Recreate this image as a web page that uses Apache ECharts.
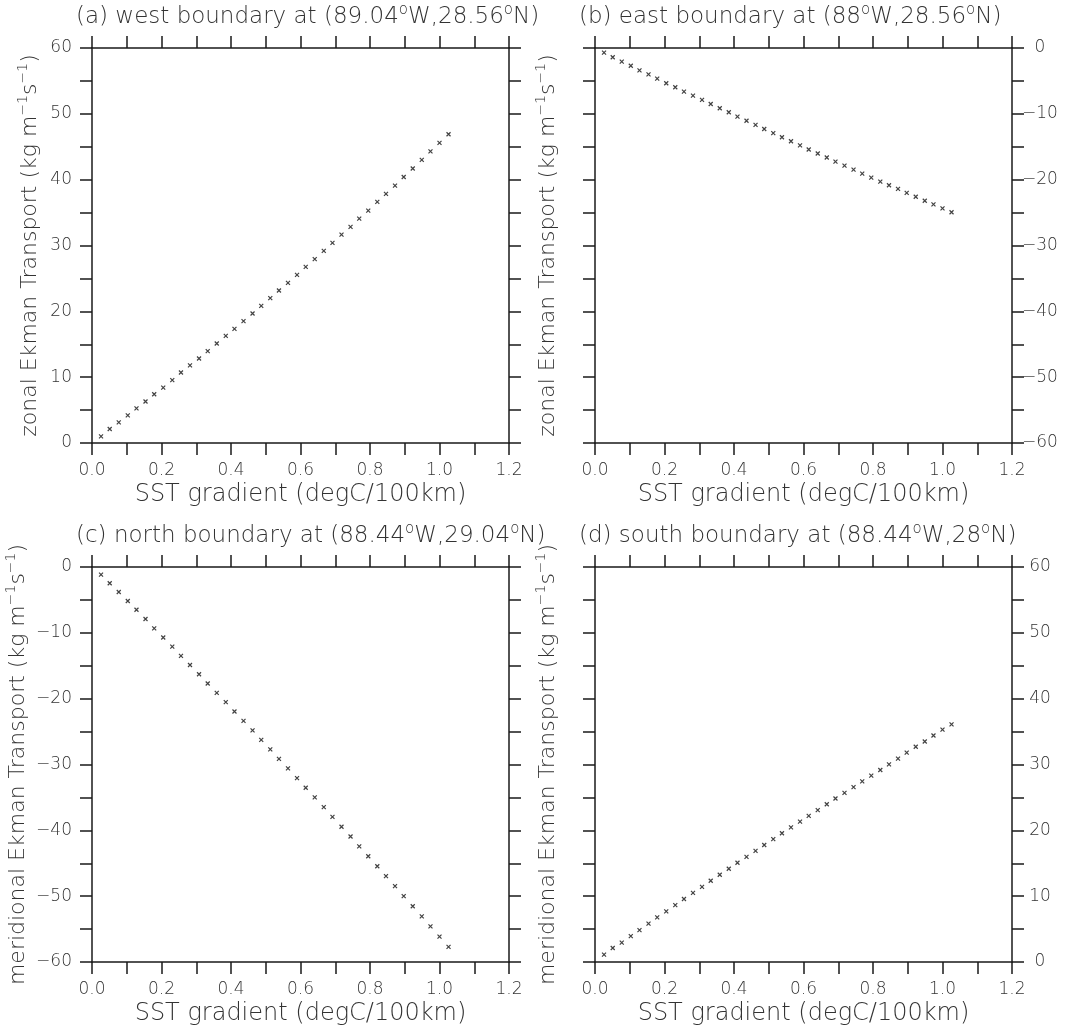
<!DOCTYPE html>
<html>
<head>
<meta charset="utf-8">
<script src="https://cdn.jsdelivr.net/npm/echarts@6/dist/echarts.min.js"></script>
<style>
  html, body { margin: 0; padding: 0; background: #fff; }
  #chart { width: 1069px; height: 1028px; }
</style>
</head>
<body>
<div id="chart"></div>
<script>
// SST gradient (degC/100km), shared by all four boundaries
const sstGradient = [0.026, 0.051, 0.077, 0.103, 0.128, 0.154, 0.179, 0.205, 0.231, 0.256,
  0.282, 0.308, 0.333, 0.359, 0.385, 0.410, 0.436, 0.462, 0.487, 0.513,
  0.538, 0.564, 0.590, 0.615, 0.641, 0.667, 0.692, 0.718, 0.744, 0.769,
  0.795, 0.821, 0.846, 0.872, 0.897, 0.923, 0.949, 0.974, 1.000, 1.026];

// (a) zonal Ekman transport, west boundary
const westZonal = [1.0, 2.12, 3.13, 4.2, 5.27, 6.3, 7.4, 8.4, 9.56, 10.71,
  11.78, 12.84, 13.96, 15.11, 16.28, 17.34, 18.51, 19.67, 20.83, 22.0,
  23.16, 24.32, 25.54, 26.75, 27.92, 29.18, 30.39, 31.65, 32.82, 34.08,
  35.3, 36.62, 37.85, 39.1, 40.4, 41.7, 43.0, 44.3, 45.6, 46.9];

// (b) zonal Ekman transport, east boundary
const eastZonal = [-0.71, -1.41, -2.08, -2.69, -3.39, -4.0, -4.66, -5.36, -5.96, -6.63,
  -7.24, -7.89, -8.5, -9.15, -9.76, -10.42, -11.05, -11.68, -12.3, -12.93,
  -13.55, -14.17, -14.8, -15.42, -16.03, -16.64, -17.25, -17.86, -18.47, -19.08,
  -19.69, -20.3, -20.85, -21.4, -22.0, -22.6, -23.2, -23.75, -24.35, -24.95];

// (c) meridional Ekman transport, north boundary
const northMeridional = [-1.15, -2.47, -3.79, -5.16, -6.5, -7.9, -9.33, -10.71, -12.1, -13.49,
  -14.89, -16.29, -17.7, -19.11, -20.53, -21.95, -23.38, -24.82, -26.25, -27.7,
  -29.15, -30.6, -32.07, -33.53, -35.0, -36.48, -37.96, -39.45, -40.94, -42.44,
  -43.94, -45.45, -46.96, -48.48, -50.0, -51.53, -53.07, -54.6, -56.15, -57.7];

// (d) meridional Ekman transport, south boundary
const southMeridional = [1.12, 2.12, 2.94, 3.94, 4.85, 5.82, 6.77, 7.68, 8.64, 9.57,
  10.5, 11.42, 12.34, 13.25, 14.16, 15.07, 15.97, 16.87, 17.77, 18.66,
  19.55, 20.44, 21.32, 22.2, 23.08, 23.96, 24.83, 25.7, 26.57, 27.44,
  28.3, 29.16, 30.02, 30.9, 31.8, 32.7, 33.5, 34.4, 35.3, 36.1];

const panelTitles = [
  '(a) west boundary at (89.04{o|o}W,28.56{o|o}N)',
  '(b) east boundary at (88{o|o}W,28.56{o|o}N)',
  '(c) north boundary at (88.44{o|o}W,29.04{o|o}N)',
  '(d) south boundary at (88.44{o|o}W,28{o|o}N)'
];
const xTitle = 'SST gradient (degC/100km)';
const zonalTitle = 'zonal Ekman Transport (kg m{s|\u22121}s{s|\u22121})';
const meridTitle = 'meridional Ekman Transport (kg m{s|\u22121}s{s|\u22121})';

// [min, max] of each panel's transport axis
const yRanges = [[0, 60], [-60, 0], [-60, 0], [0, 60]];

const FONT = 'DejaVu Sans';
const WEIGHT = 200;
const TXT = '#333';
const INK = '#1a1a1a';

const supRich = {
  s: { fontSize: 14, fontFamily: FONT, fontWeight: WEIGHT, color: TXT, verticalAlign: 'top', lineHeight: 12 },
  o: { fontSize: 15, fontFamily: FONT, fontWeight: WEIGHT, color: TXT, verticalAlign: 'top', lineHeight: 12 }
};

const fmtY = v => (Math.round(v) % 10 === 0 ? String(v).replace('-', '\u2212') : '');
const fmtX = v => (Math.round(v * 10) % 2 === 0 ? v.toFixed(1) : '');

const layout = [
  { left: 92, top: 48, labelSide: 'left', name: zonalTitle, nameGap: 48 },
  { left: 595, top: 48, labelSide: 'right', name: zonalTitle, nameGap: 33 },
  { left: 92, top: 567, labelSide: 'left', name: meridTitle, nameGap: 48 },
  { left: 595, top: 567, labelSide: 'right', name: meridTitle, nameGap: 33 }
];
const W = 417, H = 395;

const lineStyle = { color: INK, width: 1.5 };
const tick = { show: true, inside: false, length: 12, lineStyle: { color: INK, width: 1.5 } };
const labelStyle = { color: TXT, fontSize: 17, fontFamily: FONT, fontWeight: WEIGHT };

const grid = [], xAxis = [], yAxis = [], series = [], graphic = [];
const seriesData = [westZonal, eastZonal, northMeridional, southMeridional];

layout.forEach((p, i) => {
  grid.push({ left: p.left, top: p.top, width: W, height: H, containLabel: false });
  const xBase = { type: 'value', gridIndex: i, min: 0, max: 1.2, interval: 0.1,
    axisLine: { show: true, onZero: false, lineStyle }, axisTick: tick, splitLine: { show: false } };
  xAxis.push(Object.assign({}, xBase, {
    position: 'bottom',
    axisLabel: Object.assign({ margin: 19, formatter: fmtX }, labelStyle),
    name: xTitle, nameLocation: 'middle', nameGap: 40,
    nameTextStyle: { color: TXT, fontSize: 24, fontFamily: FONT, fontWeight: WEIGHT }
  }));
  xAxis.push(Object.assign({}, xBase, { position: 'top', axisLabel: { show: false } }));

  const [ymin, ymax] = yRanges[i];
  const yBase = { type: 'value', gridIndex: i, min: ymin, max: ymax, interval: 5,
    axisLine: { show: true, onZero: false, lineStyle }, axisTick: tick, splitLine: { show: false } };
  const leftLabels = Object.assign({}, yBase, {
    axisLabel: Object.assign({ margin: 20, formatter: fmtY }, labelStyle)
  });
  const rightLabels = Object.assign({}, yBase, {
    axisLabel: Object.assign({ margin: 28, align: 'center', formatter: fmtY }, labelStyle)
  });
  const bare = Object.assign({}, yBase, { axisLabel: { show: false } });
  const nameOpts = {
    name: p.name, nameLocation: 'middle', nameGap: p.nameGap, nameRotate: 90,
    nameTextStyle: { color: TXT, fontSize: 22, fontFamily: FONT, fontWeight: WEIGHT, lineHeight: 28, rich: supRich }
  };
  if (p.labelSide === 'left') {
    yAxis.push(Object.assign({}, leftLabels, { position: 'left' }, nameOpts));
    yAxis.push(Object.assign({}, bare, { position: 'right' }));
  } else {
    yAxis.push(Object.assign({}, bare, { position: 'left' }, nameOpts));
    yAxis.push(Object.assign({}, rightLabels, { position: 'right' }));
  }

  series.push({
    type: 'scatter', xAxisIndex: 2 * i, yAxisIndex: 2 * i,
    data: sstGradient.map((x, k) => [x, seriesData[i][k]]),
    symbol: 'path://M0,0L10,10M10,0L0,10',
    symbolSize: 4,
    itemStyle: { color: 'rgba(0,0,0,0)', borderColor: '#111', borderWidth: 1.2 },
    silent: true, animation: false
  });

  graphic.push({
    type: 'text', left: p.left - 16, top: p.top - 45,
    style: {
      text: panelTitles[i], fill: TXT, fontSize: 23, fontFamily: FONT, fontWeight: WEIGHT,
      lineHeight: 28, rich: supRich
    }
  });
});

const chart = echarts.init(document.getElementById('chart'), null, { renderer: 'canvas' });
chart.setOption({
  backgroundColor: '#fff',
  animation: false,
  grid, xAxis, yAxis, series, graphic
});
</script>
</body>
</html>
